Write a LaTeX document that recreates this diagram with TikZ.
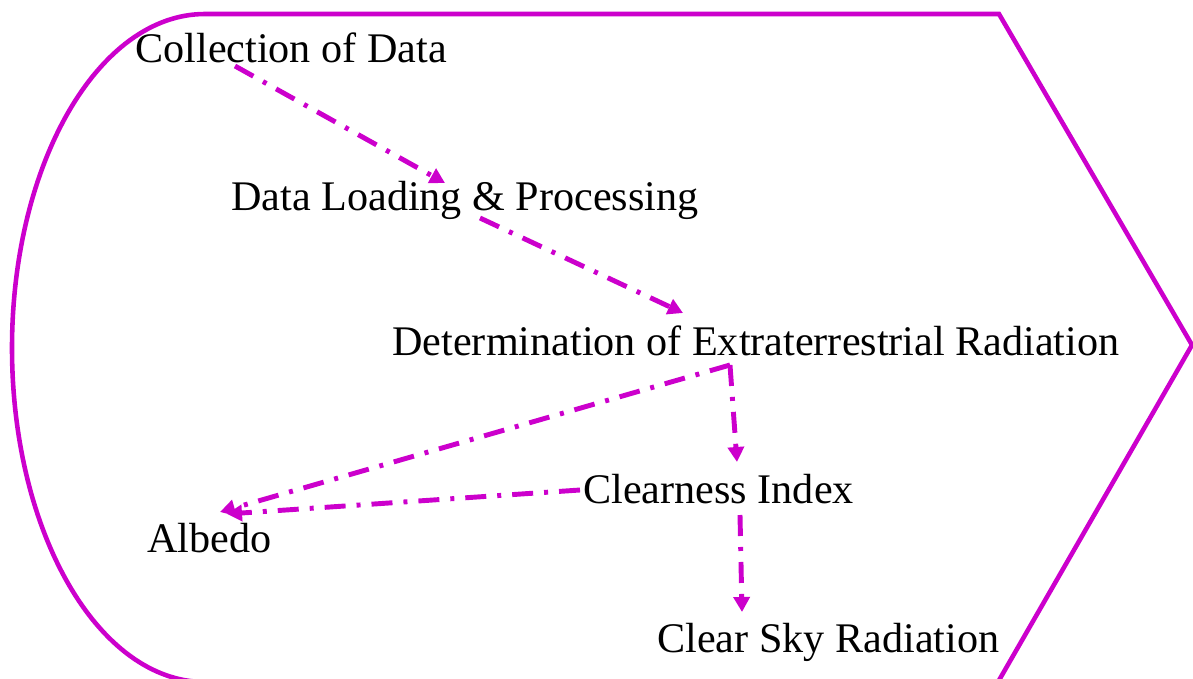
\documentclass[tikz,border=0pt]{standalone}
\usepackage{fontspec}
\setmainfont{Liberation Serif}
\usepackage{tikz}
\usetikzlibrary{arrows.meta}
\definecolor{flowmag}{RGB}{204,0,204}
\tikzstyle{steplabel}=[anchor=base west, inner sep=0pt, font=\fontsize{24}{28}\selectfont]
\tikzstyle{flowarrow}=[flowmag, line width=2.8pt, dash pattern=on 0.42cm off 0.22cm on 0.08cm off 0.22cm, -{Triangle[length=0.3cm, width=0.32cm]}]

\begin{document}
\begin{tikzpicture}[x=0.02cm, y=-0.02cm]
    \useasboundingbox (0,0) rectangle (1193,679);
    \clip (0,0) rectangle (1193,679);
    \draw[flowmag, line width=2.6pt, line join=miter] (999,14) -- (1192,345) -- (998,682) -- (205,682) arc [start angle=90, end angle=270, x radius=193, y radius=334] -- cycle;
    \node [steplabel] (coll) at (135,63) {Collection of Data};
    \node [steplabel] (load) at (231,210) {Data Loading \& Processing};
    \node [steplabel] (det) at (392,355) {Determination of Extraterrestrial Radiation};
    \node [steplabel] (alb) at (147,552) {Albedo};
    \node [steplabel] (clr) at (583,503) {Clearness Index};
    \node [steplabel] (sky) at (657,652) {Clear Sky Radiation};
    \draw [flowarrow] ([shift={(100,3)}]coll.base west) -- ([shift={(214,-27)}]load.base west);
    \draw [flowarrow] ([shift={(249,8)}]load.base west) -- ([shift={(291,-42)}]det.base west);
    \draw [flowarrow] ([shift={(338,10)}]det.base west) -- ([shift={(154,-41)}]clr.base west);
    \draw [flowarrow] ([shift={(338,10)}]det.base west) -- ([shift={(73,-40)}]alb.base west);
    \draw [flowarrow] ([shift={(-3,-13)}]clr.base west) -- ([shift={(80,-38)}]alb.base west);
    \draw [flowarrow] ([shift={(157,12)}]clr.base west) -- ([shift={(85,-40)}]sky.base west);
\end{tikzpicture}
\end{document}
